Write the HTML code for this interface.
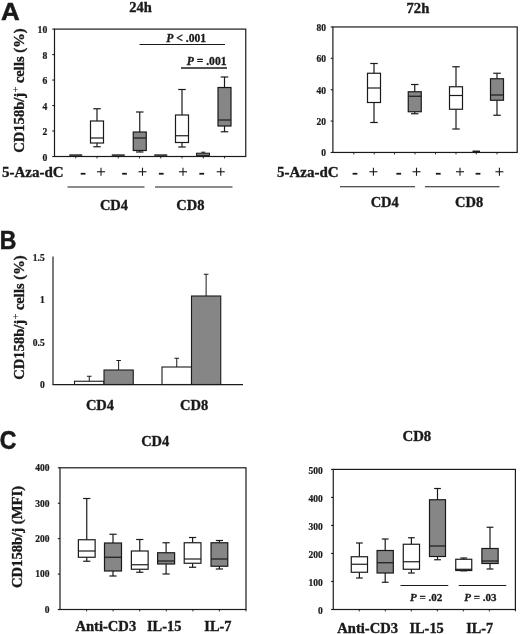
<!DOCTYPE html>
<html><head><meta charset="utf-8"><title>Figure</title>
<style>
html,body{margin:0;padding:0;background:#fff;}
body{width:520px;height:634px;overflow:hidden;font-family:"Liberation Serif",serif;}
svg{display:block;filter:grayscale(1);}
</style></head><body>
<svg width="520" height="634" viewBox="0 0 520 634">
<rect x="0" y="0" width="520" height="634" fill="#fff"/>
<rect x="54.5" y="29.1" width="191.25" height="127.4" fill="none" stroke="#1a1a1a" stroke-width="1.2"/>
<line x1="52.30" y1="29.10" x2="54.50" y2="29.10" stroke="#1a1a1a" stroke-width="1.1"/>
<text x="47.30" y="33.10" font-family="Liberation Serif" font-size="9.7" font-weight="bold" font-style="normal" text-anchor="end" fill="#1a1a1a"  stroke="#1a1a1a" stroke-width="0.22">10</text>
<line x1="52.30" y1="54.58" x2="54.50" y2="54.58" stroke="#1a1a1a" stroke-width="1.1"/>
<text x="47.30" y="58.58" font-family="Liberation Serif" font-size="9.7" font-weight="bold" font-style="normal" text-anchor="end" fill="#1a1a1a"  stroke="#1a1a1a" stroke-width="0.22">8</text>
<line x1="52.30" y1="80.06" x2="54.50" y2="80.06" stroke="#1a1a1a" stroke-width="1.1"/>
<text x="47.30" y="84.06" font-family="Liberation Serif" font-size="9.7" font-weight="bold" font-style="normal" text-anchor="end" fill="#1a1a1a"  stroke="#1a1a1a" stroke-width="0.22">6</text>
<line x1="52.30" y1="105.54" x2="54.50" y2="105.54" stroke="#1a1a1a" stroke-width="1.1"/>
<text x="47.30" y="109.54" font-family="Liberation Serif" font-size="9.7" font-weight="bold" font-style="normal" text-anchor="end" fill="#1a1a1a"  stroke="#1a1a1a" stroke-width="0.22">4</text>
<line x1="52.30" y1="131.02" x2="54.50" y2="131.02" stroke="#1a1a1a" stroke-width="1.1"/>
<text x="47.30" y="135.02" font-family="Liberation Serif" font-size="9.7" font-weight="bold" font-style="normal" text-anchor="end" fill="#1a1a1a"  stroke="#1a1a1a" stroke-width="0.22">2</text>
<line x1="52.30" y1="156.50" x2="54.50" y2="156.50" stroke="#1a1a1a" stroke-width="1.1"/>
<text x="47.30" y="160.50" font-family="Liberation Serif" font-size="9.7" font-weight="bold" font-style="normal" text-anchor="end" fill="#1a1a1a"  stroke="#1a1a1a" stroke-width="0.22">0</text>
<line x1="75.75" y1="156.50" x2="75.75" y2="158.40" stroke="#1a1a1a" stroke-width="0.95"/>
<line x1="97.00" y1="156.50" x2="97.00" y2="158.40" stroke="#1a1a1a" stroke-width="0.95"/>
<line x1="118.25" y1="156.50" x2="118.25" y2="158.40" stroke="#1a1a1a" stroke-width="0.95"/>
<line x1="139.50" y1="156.50" x2="139.50" y2="158.40" stroke="#1a1a1a" stroke-width="0.95"/>
<line x1="160.75" y1="156.50" x2="160.75" y2="158.40" stroke="#1a1a1a" stroke-width="0.95"/>
<line x1="182.00" y1="156.50" x2="182.00" y2="158.40" stroke="#1a1a1a" stroke-width="0.95"/>
<line x1="203.25" y1="156.50" x2="203.25" y2="158.40" stroke="#1a1a1a" stroke-width="0.95"/>
<line x1="224.50" y1="156.50" x2="224.50" y2="158.40" stroke="#1a1a1a" stroke-width="0.95"/>
<line x1="69.25" y1="155.10" x2="82.25" y2="155.10" stroke="#1a1a1a" stroke-width="1.5"/>
<line x1="97.00" y1="108.75" x2="97.00" y2="121.00" stroke="#1a1a1a" stroke-width="1.2"/>
<line x1="97.00" y1="143.00" x2="97.00" y2="146.75" stroke="#1a1a1a" stroke-width="1.2"/>
<line x1="93.25" y1="108.75" x2="100.75" y2="108.75" stroke="#1a1a1a" stroke-width="1.2"/>
<line x1="93.25" y1="146.75" x2="100.75" y2="146.75" stroke="#1a1a1a" stroke-width="1.2"/>
<rect x="90.50" y="121.00" width="13.00" height="22.00" fill="#fff" stroke="#1a1a1a" stroke-width="1.2"/>
<line x1="90.50" y1="138.00" x2="103.50" y2="138.00" stroke="#1a1a1a" stroke-width="1.2"/>
<line x1="111.75" y1="155.10" x2="124.75" y2="155.10" stroke="#1a1a1a" stroke-width="1.5"/>
<line x1="139.75" y1="112.00" x2="139.75" y2="132.00" stroke="#1a1a1a" stroke-width="1.2"/>
<line x1="139.75" y1="150.50" x2="139.75" y2="152.00" stroke="#1a1a1a" stroke-width="1.2"/>
<line x1="136.00" y1="112.00" x2="143.50" y2="112.00" stroke="#1a1a1a" stroke-width="1.2"/>
<line x1="136.00" y1="152.00" x2="143.50" y2="152.00" stroke="#1a1a1a" stroke-width="1.2"/>
<rect x="133.25" y="132.00" width="13.00" height="18.50" fill="#868686" stroke="#1a1a1a" stroke-width="1.2"/>
<line x1="133.25" y1="138.00" x2="146.25" y2="138.00" stroke="#1a1a1a" stroke-width="1.2"/>
<line x1="154.25" y1="155.10" x2="167.25" y2="155.10" stroke="#1a1a1a" stroke-width="1.5"/>
<line x1="182.00" y1="89.50" x2="182.00" y2="115.00" stroke="#1a1a1a" stroke-width="1.2"/>
<line x1="182.00" y1="142.50" x2="182.00" y2="147.00" stroke="#1a1a1a" stroke-width="1.2"/>
<line x1="178.25" y1="89.50" x2="185.75" y2="89.50" stroke="#1a1a1a" stroke-width="1.2"/>
<line x1="178.25" y1="147.00" x2="185.75" y2="147.00" stroke="#1a1a1a" stroke-width="1.2"/>
<rect x="175.50" y="115.00" width="13.00" height="27.50" fill="#fff" stroke="#1a1a1a" stroke-width="1.2"/>
<line x1="175.50" y1="135.75" x2="188.50" y2="135.75" stroke="#1a1a1a" stroke-width="1.2"/>
<rect x="196.5" y="153.2" width="13" height="2.2" fill="#868686" stroke="#1a1a1a" stroke-width="1"/>
<line x1="203.25" y1="152.20" x2="203.25" y2="153.20" stroke="#1a1a1a" stroke-width="1.0"/>
<line x1="201.20" y1="152.20" x2="205.30" y2="152.20" stroke="#1a1a1a" stroke-width="1.0"/>
<line x1="224.50" y1="77.00" x2="224.50" y2="87.50" stroke="#1a1a1a" stroke-width="1.2"/>
<line x1="224.50" y1="126.00" x2="224.50" y2="131.75" stroke="#1a1a1a" stroke-width="1.2"/>
<line x1="220.75" y1="77.00" x2="228.25" y2="77.00" stroke="#1a1a1a" stroke-width="1.2"/>
<line x1="220.75" y1="131.75" x2="228.25" y2="131.75" stroke="#1a1a1a" stroke-width="1.2"/>
<rect x="218.00" y="87.50" width="13.00" height="38.50" fill="#868686" stroke="#1a1a1a" stroke-width="1.2"/>
<line x1="218.00" y1="120.00" x2="231.00" y2="120.00" stroke="#1a1a1a" stroke-width="1.2"/>
<text x="186.2" y="42.4" font-family="Liberation Serif" font-size="11.6" font-weight="bold" text-anchor="middle" fill="#1a1a1a" stroke="#1a1a1a" stroke-width="0.3"><tspan font-style="italic">P</tspan> &lt; .001</text>
<line x1="139.50" y1="44.50" x2="225.00" y2="44.50" stroke="#1a1a1a" stroke-width="1.1"/>
<text x="206.6" y="65" font-family="Liberation Serif" font-size="11.6" font-weight="bold" text-anchor="middle" fill="#1a1a1a" stroke="#1a1a1a" stroke-width="0.3"><tspan font-style="italic">P</tspan> = .001</text>
<line x1="181.00" y1="68.00" x2="227.00" y2="68.00" stroke="#1a1a1a" stroke-width="1.4"/>
<text x="140.50" y="12.30" font-family="Liberation Serif" font-size="14.5" font-weight="bold" font-style="normal" text-anchor="middle" fill="#1a1a1a"  stroke="#1a1a1a" stroke-width="0.35">24h</text>
<text transform="translate(24.10,90.60) rotate(-90)" font-family="Liberation Serif" font-size="14.6" font-weight="bold" text-anchor="middle" fill="#1a1a1a" stroke="#1a1a1a" stroke-width="0.35">CD158b/j<tspan font-size="10.5" font-weight="normal" stroke-width="0.15" dy="-4.8" dx="0.3">+</tspan><tspan dy="4.8" dx="-0.2"> cells (%)</tspan></text>
<text x="2.00" y="177.40" font-family="Liberation Serif" font-size="15" font-weight="bold" font-style="normal" text-anchor="start" fill="#1a1a1a"  stroke="#1a1a1a" stroke-width="0.35">5-Aza-dC</text>
<line x1="80.70" y1="173.75" x2="85.50" y2="173.75" stroke="#1a1a1a" stroke-width="1.8"/>
<line x1="97.00" y1="171.75" x2="105.00" y2="171.75" stroke="#1a1a1a" stroke-width="1.1"/>
<line x1="101.00" y1="167.70" x2="101.00" y2="175.80" stroke="#1a1a1a" stroke-width="1.1"/>
<line x1="122.10" y1="173.75" x2="126.90" y2="173.75" stroke="#1a1a1a" stroke-width="1.8"/>
<line x1="138.50" y1="171.75" x2="146.50" y2="171.75" stroke="#1a1a1a" stroke-width="1.1"/>
<line x1="142.50" y1="167.70" x2="142.50" y2="175.80" stroke="#1a1a1a" stroke-width="1.1"/>
<line x1="158.85" y1="173.75" x2="163.65" y2="173.75" stroke="#1a1a1a" stroke-width="1.8"/>
<line x1="179.00" y1="171.75" x2="187.00" y2="171.75" stroke="#1a1a1a" stroke-width="1.1"/>
<line x1="183.00" y1="167.70" x2="183.00" y2="175.80" stroke="#1a1a1a" stroke-width="1.1"/>
<line x1="199.35" y1="173.75" x2="204.15" y2="173.75" stroke="#1a1a1a" stroke-width="1.8"/>
<line x1="216.75" y1="171.75" x2="224.75" y2="171.75" stroke="#1a1a1a" stroke-width="1.1"/>
<line x1="220.75" y1="167.70" x2="220.75" y2="175.80" stroke="#1a1a1a" stroke-width="1.1"/>
<line x1="67.50" y1="187.00" x2="144.50" y2="187.00" stroke="#1a1a1a" stroke-width="1.1"/>
<line x1="155.00" y1="187.00" x2="232.50" y2="187.00" stroke="#1a1a1a" stroke-width="1.1"/>
<text x="114.00" y="209.50" font-family="Liberation Serif" font-size="14.5" font-weight="bold" font-style="normal" text-anchor="middle" fill="#1a1a1a"  stroke="#1a1a1a" stroke-width="0.35">CD4</text>
<text x="190.40" y="209.50" font-family="Liberation Serif" font-size="14.5" font-weight="bold" font-style="normal" text-anchor="middle" fill="#1a1a1a"  stroke="#1a1a1a" stroke-width="0.35">CD8</text>
<rect x="332.9" y="26.95" width="184.30000000000007" height="125.49999999999999" fill="none" stroke="#1a1a1a" stroke-width="1.2"/>
<line x1="330.70" y1="26.95" x2="332.90" y2="26.95" stroke="#1a1a1a" stroke-width="1.1"/>
<text x="325.90" y="30.85" font-family="Liberation Serif" font-size="9.5" font-weight="bold" font-style="normal" text-anchor="end" fill="#1a1a1a"  stroke="#1a1a1a" stroke-width="0.22">80</text>
<line x1="330.70" y1="58.32" x2="332.90" y2="58.32" stroke="#1a1a1a" stroke-width="1.1"/>
<text x="325.90" y="62.22" font-family="Liberation Serif" font-size="9.5" font-weight="bold" font-style="normal" text-anchor="end" fill="#1a1a1a"  stroke="#1a1a1a" stroke-width="0.22">60</text>
<line x1="330.70" y1="89.70" x2="332.90" y2="89.70" stroke="#1a1a1a" stroke-width="1.1"/>
<text x="325.90" y="93.60" font-family="Liberation Serif" font-size="9.5" font-weight="bold" font-style="normal" text-anchor="end" fill="#1a1a1a"  stroke="#1a1a1a" stroke-width="0.22">40</text>
<line x1="330.70" y1="121.07" x2="332.90" y2="121.07" stroke="#1a1a1a" stroke-width="1.1"/>
<text x="325.90" y="124.97" font-family="Liberation Serif" font-size="9.5" font-weight="bold" font-style="normal" text-anchor="end" fill="#1a1a1a"  stroke="#1a1a1a" stroke-width="0.22">20</text>
<line x1="330.70" y1="152.45" x2="332.90" y2="152.45" stroke="#1a1a1a" stroke-width="1.1"/>
<text x="325.90" y="156.35" font-family="Liberation Serif" font-size="9.5" font-weight="bold" font-style="normal" text-anchor="end" fill="#1a1a1a"  stroke="#1a1a1a" stroke-width="0.22">0</text>
<line x1="353.75" y1="152.45" x2="353.75" y2="154.35" stroke="#1a1a1a" stroke-width="0.95"/>
<line x1="374.25" y1="152.45" x2="374.25" y2="154.35" stroke="#1a1a1a" stroke-width="0.95"/>
<line x1="394.50" y1="152.45" x2="394.50" y2="154.35" stroke="#1a1a1a" stroke-width="0.95"/>
<line x1="415.00" y1="152.45" x2="415.00" y2="154.35" stroke="#1a1a1a" stroke-width="0.95"/>
<line x1="435.50" y1="152.45" x2="435.50" y2="154.35" stroke="#1a1a1a" stroke-width="0.95"/>
<line x1="456.00" y1="152.45" x2="456.00" y2="154.35" stroke="#1a1a1a" stroke-width="0.95"/>
<line x1="476.25" y1="152.45" x2="476.25" y2="154.35" stroke="#1a1a1a" stroke-width="0.95"/>
<line x1="497.00" y1="152.45" x2="497.00" y2="154.35" stroke="#1a1a1a" stroke-width="0.95"/>
<line x1="374.00" y1="63.50" x2="374.00" y2="73.25" stroke="#1a1a1a" stroke-width="1.2"/>
<line x1="374.00" y1="102.50" x2="374.00" y2="122.50" stroke="#1a1a1a" stroke-width="1.2"/>
<line x1="370.25" y1="63.50" x2="377.75" y2="63.50" stroke="#1a1a1a" stroke-width="1.2"/>
<line x1="370.25" y1="122.50" x2="377.75" y2="122.50" stroke="#1a1a1a" stroke-width="1.2"/>
<rect x="367.50" y="73.25" width="13.00" height="29.25" fill="#fff" stroke="#1a1a1a" stroke-width="1.2"/>
<line x1="367.50" y1="88.00" x2="380.50" y2="88.00" stroke="#1a1a1a" stroke-width="1.2"/>
<line x1="414.75" y1="84.50" x2="414.75" y2="91.75" stroke="#1a1a1a" stroke-width="1.2"/>
<line x1="414.75" y1="111.75" x2="414.75" y2="113.75" stroke="#1a1a1a" stroke-width="1.2"/>
<line x1="411.00" y1="84.50" x2="418.50" y2="84.50" stroke="#1a1a1a" stroke-width="1.2"/>
<line x1="411.00" y1="113.75" x2="418.50" y2="113.75" stroke="#1a1a1a" stroke-width="1.2"/>
<rect x="408.25" y="91.75" width="13.00" height="20.00" fill="#868686" stroke="#1a1a1a" stroke-width="1.2"/>
<line x1="408.25" y1="96.25" x2="421.25" y2="96.25" stroke="#1a1a1a" stroke-width="1.2"/>
<line x1="456.00" y1="66.75" x2="456.00" y2="86.75" stroke="#1a1a1a" stroke-width="1.2"/>
<line x1="456.00" y1="109.25" x2="456.00" y2="129.00" stroke="#1a1a1a" stroke-width="1.2"/>
<line x1="452.25" y1="66.75" x2="459.75" y2="66.75" stroke="#1a1a1a" stroke-width="1.2"/>
<line x1="452.25" y1="129.00" x2="459.75" y2="129.00" stroke="#1a1a1a" stroke-width="1.2"/>
<rect x="449.50" y="86.75" width="13.00" height="22.50" fill="#fff" stroke="#1a1a1a" stroke-width="1.2"/>
<line x1="449.50" y1="95.50" x2="462.50" y2="95.50" stroke="#1a1a1a" stroke-width="1.2"/>
<line x1="497.00" y1="73.25" x2="497.00" y2="78.75" stroke="#1a1a1a" stroke-width="1.2"/>
<line x1="497.00" y1="100.25" x2="497.00" y2="115.25" stroke="#1a1a1a" stroke-width="1.2"/>
<line x1="493.25" y1="73.25" x2="500.75" y2="73.25" stroke="#1a1a1a" stroke-width="1.2"/>
<line x1="493.25" y1="115.25" x2="500.75" y2="115.25" stroke="#1a1a1a" stroke-width="1.2"/>
<rect x="490.50" y="78.75" width="13.00" height="21.50" fill="#868686" stroke="#1a1a1a" stroke-width="1.2"/>
<line x1="490.50" y1="95.00" x2="503.50" y2="95.00" stroke="#1a1a1a" stroke-width="1.2"/>
<line x1="472.50" y1="151.30" x2="480.00" y2="151.30" stroke="#1a1a1a" stroke-width="1.5"/>
<text x="417.90" y="12.80" font-family="Liberation Serif" font-size="14.6" font-weight="bold" font-style="normal" text-anchor="middle" fill="#1a1a1a"  stroke="#1a1a1a" stroke-width="0.35">72h</text>
<text x="277.00" y="177.40" font-family="Liberation Serif" font-size="15" font-weight="bold" font-style="normal" text-anchor="start" fill="#1a1a1a"  stroke="#1a1a1a" stroke-width="0.35">5-Aza-dC</text>
<line x1="352.60" y1="173.75" x2="357.40" y2="173.75" stroke="#1a1a1a" stroke-width="1.8"/>
<line x1="369.40" y1="171.75" x2="377.40" y2="171.75" stroke="#1a1a1a" stroke-width="1.1"/>
<line x1="373.40" y1="167.70" x2="373.40" y2="175.80" stroke="#1a1a1a" stroke-width="1.1"/>
<line x1="396.35" y1="173.75" x2="401.15" y2="173.75" stroke="#1a1a1a" stroke-width="1.8"/>
<line x1="412.50" y1="171.75" x2="420.50" y2="171.75" stroke="#1a1a1a" stroke-width="1.1"/>
<line x1="416.50" y1="167.70" x2="416.50" y2="175.80" stroke="#1a1a1a" stroke-width="1.1"/>
<line x1="435.85" y1="173.75" x2="440.65" y2="173.75" stroke="#1a1a1a" stroke-width="1.8"/>
<line x1="456.00" y1="171.75" x2="464.00" y2="171.75" stroke="#1a1a1a" stroke-width="1.1"/>
<line x1="460.00" y1="167.70" x2="460.00" y2="175.80" stroke="#1a1a1a" stroke-width="1.1"/>
<line x1="475.60" y1="173.75" x2="480.40" y2="173.75" stroke="#1a1a1a" stroke-width="1.8"/>
<line x1="495.40" y1="171.75" x2="503.40" y2="171.75" stroke="#1a1a1a" stroke-width="1.1"/>
<line x1="499.40" y1="167.70" x2="499.40" y2="175.80" stroke="#1a1a1a" stroke-width="1.1"/>
<line x1="340.00" y1="186.75" x2="415.00" y2="186.75" stroke="#1a1a1a" stroke-width="1.1"/>
<line x1="425.00" y1="186.75" x2="499.50" y2="186.75" stroke="#1a1a1a" stroke-width="1.1"/>
<text x="384.75" y="206.75" font-family="Liberation Serif" font-size="14.5" font-weight="bold" font-style="normal" text-anchor="middle" fill="#1a1a1a"  stroke="#1a1a1a" stroke-width="0.35">CD4</text>
<text x="469.10" y="206.75" font-family="Liberation Serif" font-size="14.5" font-weight="bold" font-style="normal" text-anchor="middle" fill="#1a1a1a"  stroke="#1a1a1a" stroke-width="0.35">CD8</text>
<line x1="53.00" y1="256.50" x2="53.00" y2="384.50" stroke="#1a1a1a" stroke-width="1.15"/>
<line x1="52.50" y1="384.50" x2="243.00" y2="384.50" stroke="#1a1a1a" stroke-width="1.25"/>
<text x="44.70" y="260.60" font-family="Liberation Serif" font-size="9.5" font-weight="bold" font-style="normal" text-anchor="end" fill="#1a1a1a"  stroke="#1a1a1a" stroke-width="0.22">1.5</text>
<text x="44.70" y="303.10" font-family="Liberation Serif" font-size="9.5" font-weight="bold" font-style="normal" text-anchor="end" fill="#1a1a1a"  stroke="#1a1a1a" stroke-width="0.22">1</text>
<text x="44.70" y="345.60" font-family="Liberation Serif" font-size="9.5" font-weight="bold" font-style="normal" text-anchor="end" fill="#1a1a1a"  stroke="#1a1a1a" stroke-width="0.22">0.5</text>
<text x="44.70" y="388.10" font-family="Liberation Serif" font-size="9.5" font-weight="bold" font-style="normal" text-anchor="end" fill="#1a1a1a"  stroke="#1a1a1a" stroke-width="0.22">0</text>
<rect x="74.5" y="381.25" width="29.5" height="3.25" fill="#fff" stroke="#1a1a1a" stroke-width="1.1"/>
<line x1="89.25" y1="376.25" x2="89.25" y2="381.25" stroke="#1a1a1a" stroke-width="1.0"/>
<line x1="86.95" y1="376.25" x2="91.55" y2="376.25" stroke="#1a1a1a" stroke-width="1.0"/>
<rect x="104" y="370" width="29.25" height="14.5" fill="#868686" stroke="#1a1a1a" stroke-width="1.1"/>
<line x1="118.62" y1="360.50" x2="118.62" y2="370.00" stroke="#1a1a1a" stroke-width="1.0"/>
<line x1="116.33" y1="360.50" x2="120.92" y2="360.50" stroke="#1a1a1a" stroke-width="1.0"/>
<rect x="162" y="367" width="29.5" height="17.5" fill="#fff" stroke="#1a1a1a" stroke-width="1.1"/>
<line x1="176.75" y1="358.25" x2="176.75" y2="367.00" stroke="#1a1a1a" stroke-width="1.0"/>
<line x1="174.45" y1="358.25" x2="179.05" y2="358.25" stroke="#1a1a1a" stroke-width="1.0"/>
<rect x="191.5" y="296" width="29.25" height="88.5" fill="#868686" stroke="#1a1a1a" stroke-width="1.1"/>
<line x1="206.12" y1="274.25" x2="206.12" y2="296.00" stroke="#1a1a1a" stroke-width="1.0"/>
<line x1="203.82" y1="274.25" x2="208.43" y2="274.25" stroke="#1a1a1a" stroke-width="1.0"/>
<text transform="translate(23.60,317.60) rotate(-90)" font-family="Liberation Serif" font-size="14.6" font-weight="bold" text-anchor="middle" fill="#1a1a1a" stroke="#1a1a1a" stroke-width="0.35">CD158b/j<tspan font-size="10.5" font-weight="normal" stroke-width="0.15" dy="-4.8" dx="0.3">+</tspan><tspan dy="4.8" dx="-0.2"> cells (%)</tspan></text>
<text x="100.00" y="410.00" font-family="Liberation Serif" font-size="14.5" font-weight="bold" font-style="normal" text-anchor="middle" fill="#1a1a1a"  stroke="#1a1a1a" stroke-width="0.35">CD4</text>
<text x="194.10" y="410.00" font-family="Liberation Serif" font-size="14.5" font-weight="bold" font-style="normal" text-anchor="middle" fill="#1a1a1a"  stroke="#1a1a1a" stroke-width="0.35">CD8</text>
<rect x="60.0" y="467.8" width="186.0" height="141.7" fill="none" stroke="#1a1a1a" stroke-width="1.2"/>
<line x1="57.80" y1="467.80" x2="60.00" y2="467.80" stroke="#1a1a1a" stroke-width="1.1"/>
<text x="49.40" y="471.10" font-family="Liberation Serif" font-size="9.5" font-weight="bold" font-style="normal" text-anchor="end" fill="#1a1a1a"  stroke="#1a1a1a" stroke-width="0.22">400</text>
<line x1="57.80" y1="503.23" x2="60.00" y2="503.23" stroke="#1a1a1a" stroke-width="1.1"/>
<text x="49.40" y="506.53" font-family="Liberation Serif" font-size="9.5" font-weight="bold" font-style="normal" text-anchor="end" fill="#1a1a1a"  stroke="#1a1a1a" stroke-width="0.22">300</text>
<line x1="57.80" y1="538.65" x2="60.00" y2="538.65" stroke="#1a1a1a" stroke-width="1.1"/>
<text x="49.40" y="541.95" font-family="Liberation Serif" font-size="9.5" font-weight="bold" font-style="normal" text-anchor="end" fill="#1a1a1a"  stroke="#1a1a1a" stroke-width="0.22">200</text>
<line x1="57.80" y1="574.08" x2="60.00" y2="574.08" stroke="#1a1a1a" stroke-width="1.1"/>
<text x="49.40" y="577.38" font-family="Liberation Serif" font-size="9.5" font-weight="bold" font-style="normal" text-anchor="end" fill="#1a1a1a"  stroke="#1a1a1a" stroke-width="0.22">100</text>
<line x1="57.80" y1="609.50" x2="60.00" y2="609.50" stroke="#1a1a1a" stroke-width="1.1"/>
<text x="49.40" y="612.80" font-family="Liberation Serif" font-size="9.5" font-weight="bold" font-style="normal" text-anchor="end" fill="#1a1a1a"  stroke="#1a1a1a" stroke-width="0.22">0</text>
<line x1="86.57" y1="609.50" x2="86.57" y2="611.40" stroke="#1a1a1a" stroke-width="0.95"/>
<line x1="113.14" y1="609.50" x2="113.14" y2="611.40" stroke="#1a1a1a" stroke-width="0.95"/>
<line x1="139.71" y1="609.50" x2="139.71" y2="611.40" stroke="#1a1a1a" stroke-width="0.95"/>
<line x1="166.29" y1="609.50" x2="166.29" y2="611.40" stroke="#1a1a1a" stroke-width="0.95"/>
<line x1="192.86" y1="609.50" x2="192.86" y2="611.40" stroke="#1a1a1a" stroke-width="0.95"/>
<line x1="219.43" y1="609.50" x2="219.43" y2="611.40" stroke="#1a1a1a" stroke-width="0.95"/>
<line x1="246.00" y1="609.50" x2="246.00" y2="611.40" stroke="#1a1a1a" stroke-width="0.95"/>
<line x1="86.75" y1="498.50" x2="86.75" y2="539.75" stroke="#1a1a1a" stroke-width="1.2"/>
<line x1="86.75" y1="557.25" x2="86.75" y2="561.25" stroke="#1a1a1a" stroke-width="1.2"/>
<line x1="83.15" y1="498.50" x2="90.35" y2="498.50" stroke="#1a1a1a" stroke-width="1.2"/>
<line x1="83.15" y1="561.25" x2="90.35" y2="561.25" stroke="#1a1a1a" stroke-width="1.2"/>
<rect x="78.38" y="539.75" width="16.75" height="17.50" fill="#fff" stroke="#1a1a1a" stroke-width="1.2"/>
<line x1="78.38" y1="551.00" x2="95.12" y2="551.00" stroke="#1a1a1a" stroke-width="1.2"/>
<line x1="113.00" y1="534.25" x2="113.00" y2="543.00" stroke="#1a1a1a" stroke-width="1.2"/>
<line x1="113.00" y1="571.00" x2="113.00" y2="576.00" stroke="#1a1a1a" stroke-width="1.2"/>
<line x1="109.40" y1="534.25" x2="116.60" y2="534.25" stroke="#1a1a1a" stroke-width="1.2"/>
<line x1="109.40" y1="576.00" x2="116.60" y2="576.00" stroke="#1a1a1a" stroke-width="1.2"/>
<rect x="104.50" y="543.00" width="17.00" height="28.00" fill="#868686" stroke="#1a1a1a" stroke-width="1.2"/>
<line x1="104.50" y1="557.25" x2="121.50" y2="557.25" stroke="#1a1a1a" stroke-width="1.2"/>
<line x1="139.75" y1="539.50" x2="139.75" y2="551.00" stroke="#1a1a1a" stroke-width="1.2"/>
<line x1="139.75" y1="569.25" x2="139.75" y2="572.25" stroke="#1a1a1a" stroke-width="1.2"/>
<line x1="136.15" y1="539.50" x2="143.35" y2="539.50" stroke="#1a1a1a" stroke-width="1.2"/>
<line x1="136.15" y1="572.25" x2="143.35" y2="572.25" stroke="#1a1a1a" stroke-width="1.2"/>
<rect x="131.38" y="551.00" width="16.75" height="18.25" fill="#fff" stroke="#1a1a1a" stroke-width="1.2"/>
<line x1="131.38" y1="564.75" x2="148.12" y2="564.75" stroke="#1a1a1a" stroke-width="1.2"/>
<line x1="166.10" y1="542.75" x2="166.10" y2="552.75" stroke="#1a1a1a" stroke-width="1.2"/>
<line x1="166.10" y1="564.00" x2="166.10" y2="574.00" stroke="#1a1a1a" stroke-width="1.2"/>
<line x1="162.50" y1="542.75" x2="169.70" y2="542.75" stroke="#1a1a1a" stroke-width="1.2"/>
<line x1="162.50" y1="574.00" x2="169.70" y2="574.00" stroke="#1a1a1a" stroke-width="1.2"/>
<rect x="157.60" y="552.75" width="17.00" height="11.25" fill="#868686" stroke="#1a1a1a" stroke-width="1.2"/>
<line x1="157.60" y1="561.00" x2="174.60" y2="561.00" stroke="#1a1a1a" stroke-width="1.2"/>
<line x1="192.60" y1="537.50" x2="192.60" y2="542.75" stroke="#1a1a1a" stroke-width="1.2"/>
<line x1="192.60" y1="563.25" x2="192.60" y2="567.25" stroke="#1a1a1a" stroke-width="1.2"/>
<line x1="189.00" y1="537.50" x2="196.20" y2="537.50" stroke="#1a1a1a" stroke-width="1.2"/>
<line x1="189.00" y1="567.25" x2="196.20" y2="567.25" stroke="#1a1a1a" stroke-width="1.2"/>
<rect x="184.22" y="542.75" width="16.75" height="20.50" fill="#fff" stroke="#1a1a1a" stroke-width="1.2"/>
<line x1="184.22" y1="559.00" x2="200.97" y2="559.00" stroke="#1a1a1a" stroke-width="1.2"/>
<line x1="219.40" y1="540.50" x2="219.40" y2="542.75" stroke="#1a1a1a" stroke-width="1.2"/>
<line x1="219.40" y1="566.25" x2="219.40" y2="569.00" stroke="#1a1a1a" stroke-width="1.2"/>
<line x1="215.80" y1="540.50" x2="223.00" y2="540.50" stroke="#1a1a1a" stroke-width="1.2"/>
<line x1="215.80" y1="569.00" x2="223.00" y2="569.00" stroke="#1a1a1a" stroke-width="1.2"/>
<rect x="211.03" y="542.75" width="16.75" height="23.50" fill="#868686" stroke="#1a1a1a" stroke-width="1.2"/>
<line x1="211.03" y1="559.00" x2="227.78" y2="559.00" stroke="#1a1a1a" stroke-width="1.2"/>
<text x="155.25" y="446.20" font-family="Liberation Serif" font-size="14.5" font-weight="bold" font-style="normal" text-anchor="middle" fill="#1a1a1a"  stroke="#1a1a1a" stroke-width="0.35">CD4</text>
<text transform="translate(22.40,537.00) rotate(-90)" font-family="Liberation Serif" font-size="14.65" font-weight="bold" text-anchor="middle" fill="#1a1a1a" stroke="#1a1a1a" stroke-width="0.35">CD158b/j (MFI)</text>
<text x="75.40" y="631.40" font-family="Liberation Serif" font-size="14.6" font-weight="bold" font-style="normal" text-anchor="start" fill="#1a1a1a"  stroke="#1a1a1a" stroke-width="0.35">Anti-CD3</text>
<text x="147.00" y="631.40" font-family="Liberation Serif" font-size="14.4" font-weight="bold" font-style="normal" text-anchor="start" fill="#1a1a1a"  stroke="#1a1a1a" stroke-width="0.35">IL-15</text>
<text x="204.30" y="631.40" font-family="Liberation Serif" font-size="14.4" font-weight="bold" font-style="normal" text-anchor="start" fill="#1a1a1a"  stroke="#1a1a1a" stroke-width="0.35">IL-7</text>
<rect x="333.25" y="469.4" width="182.14999999999998" height="140.10000000000002" fill="none" stroke="#1a1a1a" stroke-width="1.2"/>
<line x1="331.05" y1="469.40" x2="333.25" y2="469.40" stroke="#1a1a1a" stroke-width="1.1"/>
<text x="322.65" y="473.60" font-family="Liberation Serif" font-size="9.5" font-weight="bold" font-style="normal" text-anchor="end" fill="#1a1a1a"  stroke="#1a1a1a" stroke-width="0.22">500</text>
<line x1="331.05" y1="497.42" x2="333.25" y2="497.42" stroke="#1a1a1a" stroke-width="1.1"/>
<text x="322.65" y="501.62" font-family="Liberation Serif" font-size="9.5" font-weight="bold" font-style="normal" text-anchor="end" fill="#1a1a1a"  stroke="#1a1a1a" stroke-width="0.22">400</text>
<line x1="331.05" y1="525.44" x2="333.25" y2="525.44" stroke="#1a1a1a" stroke-width="1.1"/>
<text x="322.65" y="529.64" font-family="Liberation Serif" font-size="9.5" font-weight="bold" font-style="normal" text-anchor="end" fill="#1a1a1a"  stroke="#1a1a1a" stroke-width="0.22">300</text>
<line x1="331.05" y1="553.46" x2="333.25" y2="553.46" stroke="#1a1a1a" stroke-width="1.1"/>
<text x="322.65" y="557.66" font-family="Liberation Serif" font-size="9.5" font-weight="bold" font-style="normal" text-anchor="end" fill="#1a1a1a"  stroke="#1a1a1a" stroke-width="0.22">200</text>
<line x1="331.05" y1="581.48" x2="333.25" y2="581.48" stroke="#1a1a1a" stroke-width="1.1"/>
<text x="322.65" y="585.68" font-family="Liberation Serif" font-size="9.5" font-weight="bold" font-style="normal" text-anchor="end" fill="#1a1a1a"  stroke="#1a1a1a" stroke-width="0.22">100</text>
<line x1="331.05" y1="609.50" x2="333.25" y2="609.50" stroke="#1a1a1a" stroke-width="1.1"/>
<text x="322.65" y="613.70" font-family="Liberation Serif" font-size="9.5" font-weight="bold" font-style="normal" text-anchor="end" fill="#1a1a1a"  stroke="#1a1a1a" stroke-width="0.22">0</text>
<line x1="359.27" y1="609.50" x2="359.27" y2="611.40" stroke="#1a1a1a" stroke-width="0.95"/>
<line x1="385.29" y1="609.50" x2="385.29" y2="611.40" stroke="#1a1a1a" stroke-width="0.95"/>
<line x1="411.31" y1="609.50" x2="411.31" y2="611.40" stroke="#1a1a1a" stroke-width="0.95"/>
<line x1="437.34" y1="609.50" x2="437.34" y2="611.40" stroke="#1a1a1a" stroke-width="0.95"/>
<line x1="463.36" y1="609.50" x2="463.36" y2="611.40" stroke="#1a1a1a" stroke-width="0.95"/>
<line x1="489.38" y1="609.50" x2="489.38" y2="611.40" stroke="#1a1a1a" stroke-width="0.95"/>
<line x1="515.40" y1="609.50" x2="515.40" y2="611.40" stroke="#1a1a1a" stroke-width="0.95"/>
<line x1="359.40" y1="543.00" x2="359.40" y2="556.75" stroke="#1a1a1a" stroke-width="1.2"/>
<line x1="359.40" y1="572.25" x2="359.40" y2="578.00" stroke="#1a1a1a" stroke-width="1.2"/>
<line x1="356.00" y1="543.00" x2="362.80" y2="543.00" stroke="#1a1a1a" stroke-width="1.2"/>
<line x1="356.00" y1="578.00" x2="362.80" y2="578.00" stroke="#1a1a1a" stroke-width="1.2"/>
<rect x="351.27" y="556.75" width="16.25" height="15.50" fill="#fff" stroke="#1a1a1a" stroke-width="1.2"/>
<line x1="351.27" y1="564.25" x2="367.52" y2="564.25" stroke="#1a1a1a" stroke-width="1.2"/>
<line x1="385.20" y1="539.00" x2="385.20" y2="550.50" stroke="#1a1a1a" stroke-width="1.2"/>
<line x1="385.20" y1="573.00" x2="385.20" y2="582.25" stroke="#1a1a1a" stroke-width="1.2"/>
<line x1="381.80" y1="539.00" x2="388.60" y2="539.00" stroke="#1a1a1a" stroke-width="1.2"/>
<line x1="381.80" y1="582.25" x2="388.60" y2="582.25" stroke="#1a1a1a" stroke-width="1.2"/>
<rect x="377.07" y="550.50" width="16.25" height="22.50" fill="#868686" stroke="#1a1a1a" stroke-width="1.2"/>
<line x1="377.07" y1="562.75" x2="393.32" y2="562.75" stroke="#1a1a1a" stroke-width="1.2"/>
<line x1="411.40" y1="537.75" x2="411.40" y2="544.25" stroke="#1a1a1a" stroke-width="1.2"/>
<line x1="411.40" y1="569.25" x2="411.40" y2="573.00" stroke="#1a1a1a" stroke-width="1.2"/>
<line x1="408.00" y1="537.75" x2="414.80" y2="537.75" stroke="#1a1a1a" stroke-width="1.2"/>
<line x1="408.00" y1="573.00" x2="414.80" y2="573.00" stroke="#1a1a1a" stroke-width="1.2"/>
<rect x="403.27" y="544.25" width="16.25" height="25.00" fill="#fff" stroke="#1a1a1a" stroke-width="1.2"/>
<line x1="403.27" y1="561.75" x2="419.52" y2="561.75" stroke="#1a1a1a" stroke-width="1.2"/>
<line x1="437.50" y1="488.50" x2="437.50" y2="499.75" stroke="#1a1a1a" stroke-width="1.2"/>
<line x1="437.50" y1="556.50" x2="437.50" y2="559.75" stroke="#1a1a1a" stroke-width="1.2"/>
<line x1="434.10" y1="488.50" x2="440.90" y2="488.50" stroke="#1a1a1a" stroke-width="1.2"/>
<line x1="434.10" y1="559.75" x2="440.90" y2="559.75" stroke="#1a1a1a" stroke-width="1.2"/>
<rect x="429.50" y="499.75" width="16.00" height="56.75" fill="#868686" stroke="#1a1a1a" stroke-width="1.2"/>
<line x1="429.50" y1="546.00" x2="445.50" y2="546.00" stroke="#1a1a1a" stroke-width="1.2"/>
<line x1="463.75" y1="558.00" x2="463.75" y2="559.25" stroke="#1a1a1a" stroke-width="1.2"/>
<line x1="463.75" y1="570.50" x2="463.75" y2="570.80" stroke="#1a1a1a" stroke-width="1.2"/>
<line x1="460.35" y1="558.00" x2="467.15" y2="558.00" stroke="#1a1a1a" stroke-width="1.2"/>
<line x1="460.35" y1="570.80" x2="467.15" y2="570.80" stroke="#1a1a1a" stroke-width="1.2"/>
<rect x="455.75" y="559.25" width="16.00" height="11.25" fill="#fff" stroke="#1a1a1a" stroke-width="1.2"/>
<line x1="455.75" y1="569.30" x2="471.75" y2="569.30" stroke="#1a1a1a" stroke-width="1.2"/>
<line x1="490.00" y1="527.25" x2="490.00" y2="548.50" stroke="#1a1a1a" stroke-width="1.2"/>
<line x1="490.00" y1="563.50" x2="490.00" y2="569.00" stroke="#1a1a1a" stroke-width="1.2"/>
<line x1="486.60" y1="527.25" x2="493.40" y2="527.25" stroke="#1a1a1a" stroke-width="1.2"/>
<line x1="486.60" y1="569.00" x2="493.40" y2="569.00" stroke="#1a1a1a" stroke-width="1.2"/>
<rect x="481.88" y="548.50" width="16.25" height="15.00" fill="#868686" stroke="#1a1a1a" stroke-width="1.2"/>
<line x1="481.88" y1="561.00" x2="498.12" y2="561.00" stroke="#1a1a1a" stroke-width="1.2"/>
<line x1="400.50" y1="585.50" x2="448.25" y2="585.50" stroke="#1a1a1a" stroke-width="1.1"/>
<line x1="458.75" y1="585.50" x2="506.25" y2="585.50" stroke="#1a1a1a" stroke-width="1.1"/>
<text x="426.2" y="601" font-family="Liberation Serif" font-size="11" font-weight="bold" text-anchor="middle" fill="#1a1a1a" stroke="#1a1a1a" stroke-width="0.3"><tspan font-style="italic">P</tspan> = .02</text>
<text x="480.5" y="601" font-family="Liberation Serif" font-size="11" font-weight="bold" text-anchor="middle" fill="#1a1a1a" stroke="#1a1a1a" stroke-width="0.3"><tspan font-style="italic">P</tspan> = .03</text>
<text x="416.90" y="441.20" font-family="Liberation Serif" font-size="14.8" font-weight="bold" font-style="normal" text-anchor="middle" fill="#1a1a1a"  stroke="#1a1a1a" stroke-width="0.35">CD8</text>
<text x="337.30" y="632.80" font-family="Liberation Serif" font-size="14.6" font-weight="bold" font-style="normal" text-anchor="start" fill="#1a1a1a"  stroke="#1a1a1a" stroke-width="0.35">Anti-CD3</text>
<text x="409.40" y="632.80" font-family="Liberation Serif" font-size="14.4" font-weight="bold" font-style="normal" text-anchor="start" fill="#1a1a1a"  stroke="#1a1a1a" stroke-width="0.35">IL-15</text>
<text x="466.20" y="632.80" font-family="Liberation Serif" font-size="14.3" font-weight="bold" font-style="normal" text-anchor="start" fill="#1a1a1a"  stroke="#1a1a1a" stroke-width="0.35">IL-7</text>
<text transform="translate(0.9,19.8) scale(1.07,1)" font-family="Liberation Sans" font-size="24.2" font-weight="bold" fill="#1a1a1a" stroke="#1a1a1a" stroke-width="0.55" stroke-linejoin="round">A</text>
<text transform="translate(-0.3,248.6) scale(0.9,1)" font-family="Liberation Sans" font-size="25.6" font-weight="bold" fill="#1a1a1a" stroke="#1a1a1a" stroke-width="0.55" stroke-linejoin="round">B</text>
<text transform="translate(-0.2,448.6) scale(0.9,1)" font-family="Liberation Sans" font-size="25.6" font-weight="bold" fill="#1a1a1a" stroke="#1a1a1a" stroke-width="0.55" stroke-linejoin="round">C</text>
</svg>
</body></html>
